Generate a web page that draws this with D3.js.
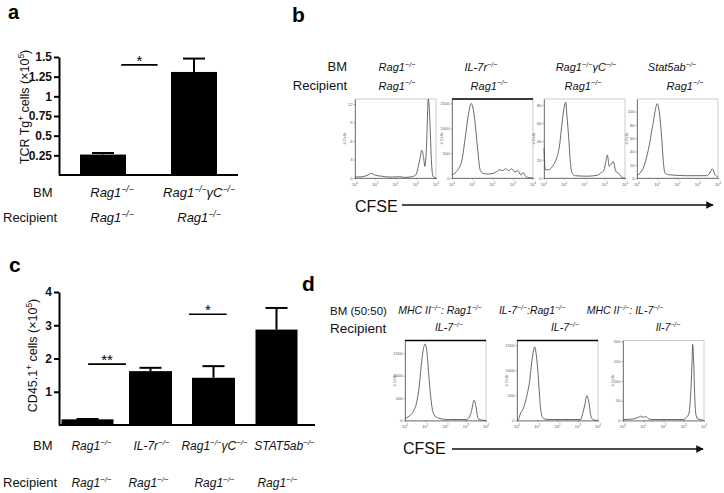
<!DOCTYPE html>
<html>
<head>
<meta charset="utf-8">
<script src="https://cdn.jsdelivr.net/npm/d3@7"></script>
<style>
  body { margin: 0; background: #fff; }
  svg { font-family: "Liberation Sans", Arial, sans-serif; }
</style>
</head>
<body>
<svg id="fig" width="724" height="493"></svg>
<script>
// ---- data ----
// panel a: bar chart
const aCats = ["Rag1^{−/−}", "Rag1^{−/−}γC^{−/−}"];
const aRecip = ["Rag1^{−/−}", "Rag1^{−/−}"];
const aVals = [0.26, 1.31];
const aErr = [0.28, 1.48];
const aTicks = [0.25, 0.5, 0.75, 1, 1.25, 1.5];
const aSig = [{ from: 0.2, to: 0.6, y: 1.4, label: "*" }];

// panel c: bar chart
const cCats = ["Rag1^{−/−}", "IL-7r^{−/−}", "Rag1^{−/−}γC^{−/−}", "STAT5ab^{−/−}"];
const cRecip = ["Rag1^{−/−}", "Rag1^{−/−}", "Rag1^{−/−}", "Rag1^{−/−}"];
const cVals = [0.17, 1.62, 1.42, 2.87];
const cErr = [0.18, 1.72, 1.77, 3.52];
const cTicks = [1, 2, 3, 4];
const cSig = [
  { from: 0.01, to: 0.61, y: 1.83, label: "**" },
  { from: 1.61, to: 2.21, y: 3.33, label: "*" }
];

// panel b: CFSE histograms, points are [log10 CFSE, # cells]
const bCats = ["Rag1^{−/−}", "IL-7r^{−/−}", "Rag1^{−/−}γC^{−/−}", "Stat5ab^{−/−}"];
const bRecip = ["Rag1^{−/−}", "Rag1^{−/−}", "Rag1^{−/−}", "Rag1^{−/−}"];
const bYmax = [12.8, 1590, 86.5, 119];
const bYticks = [[0, 3, 6, 9, 12], [0, 500, 1000, 1500], [0, 20, 40, 60, 80], [0, 20, 40, 60, 80, 100]];
const bHist1 = [[0, 0.15], [0.35, 0.2], [0.65, 0.5], [0.8, 0.75], [1.0, 0.45], [1.3, 0.3], [1.7, 0.15],
  [2.2, 0.2], [2.45, 0.1], [2.8, 0.2], [3.0, 0.5], [3.1, 1.5], [3.2, 3.0], [3.3, 4.5], [3.38, 3.5],
  [3.45, 1.9], [3.53, 5], [3.62, 12.8], [3.7, 9], [3.77, 3], [3.85, 0.3], [4.0, 0]];
const bHist2 = [[0, 60], [0.15, 100], [0.3, 170], [0.5, 380], [0.65, 800], [0.8, 1250], [0.95, 1500],
  [1.1, 1250], [1.25, 650], [1.4, 150], [1.55, 90], [1.8, 80], [2.05, 95], [2.2, 130], [2.35, 165],
  [2.5, 150], [2.65, 185], [2.8, 150], [2.95, 185], [3.1, 120], [3.25, 150], [3.4, 60], [3.5, 110],
  [3.65, 30], [3.8, 5], [4.0, 0]];
const bHist3 = [[0, 33], [0.06, 9], [0.22, 9], [0.47, 14.5], [0.63, 22], [0.77, 36], [0.88, 58],
  [0.97, 74], [1.02, 80], [1.07, 83], [1.13, 69], [1.22, 44], [1.3, 18], [1.38, 5.5], [1.55, 2.5],
  [2.13, 2], [2.63, 3], [2.8, 5.5], [2.97, 9], [3.05, 18], [3.13, 25], [3.22, 13], [3.3, 14.5],
  [3.42, 18], [3.55, 7], [3.67, 5.5], [3.8, 2], [3.88, 0], [4.0, 0]];
const bHist4 = [[0.02, 4], [0.15, 7.5], [0.31, 15], [0.48, 32], [0.64, 55], [0.72, 70], [0.81, 85],
  [0.89, 100], [1.0, 112], [1.1, 100], [1.22, 60], [1.3, 25], [1.38, 7.5], [1.55, 5], [2.45, 3.5],
  [3.44, 3.5], [3.6, 7.5], [3.72, 14], [3.85, 5], [3.94, 2.5], [4.0, 1]];
const bTopBar = [false, true, false, false];

// panel d: CFSE histograms
const dCats = ["MHC II^{−/−}: Rag1^{−/−}", "IL-7^{−/−}:Rag1^{−/−}", "MHC II^{−/−}: IL-7^{−/−}"];
const dRecip = ["IL-7^{−/−}", "IL-7^{−/−}", "Il-7^{−/−}"];
const dYmax = [1785, 1590, 202];
const dYticks = [[0, 500, 1000, 1500], [0, 500, 1000, 1500], [0, 50, 100, 150, 200]];
const dHist1 = [[0, 40], [0.05, 53], [0.25, 113], [0.41, 203], [0.58, 413], [0.71, 788], [0.82, 1310],
  [0.9, 1576], [0.99, 1710], [1.07, 1576], [1.15, 1163], [1.23, 713], [1.32, 338], [1.43, 128],
  [1.65, 53], [2.06, 23], [3.05, 23], [3.18, 75], [3.29, 225], [3.41, 450], [3.51, 300], [3.57, 113],
  [3.65, 23], [4.0, 0]];
const dHist2 = [[0, 10], [0.07, 20], [0.15, 118], [0.32, 250], [0.48, 480], [0.62, 775], [0.73, 1170],
  [0.82, 1400], [0.87, 1465], [0.93, 1367], [1.02, 1038], [1.1, 578], [1.18, 184], [1.28, 53],
  [1.48, 20], [3.15, 20], [3.23, 118], [3.35, 315], [3.45, 493], [3.57, 315], [3.65, 85], [3.78, 13],
  [3.98, 0]];
const dHist3 = [[0.02, 2.5], [0.51, 4], [0.76, 8], [0.87, 11], [1.0, 8], [1.12, 10], [1.25, 5],
  [1.42, 2.5], [2.98, 2.5], [3.14, 8], [3.26, 19], [3.34, 65], [3.41, 148], [3.44, 192], [3.49, 148],
  [3.54, 65], [3.59, 19], [3.67, 5], [3.97, 1]];
const dTopBar = [true, true, false];

const histExp = [0, 1, 2, 3, 4];

// ---- helpers ----
const svg = d3.select("#fig");
const FONT = "'Liberation Sans', Arial, sans-serif";

svg.append("defs").append("marker")
  .attr("id", "arrow").attr("viewBox", "0 0 10 10")
  .attr("refX", 9).attr("refY", 5)
  .attr("markerWidth", 5).attr("markerHeight", 5)
  .attr("orient", "auto")
  .append("path").attr("d", "M0,0L10,5L0,10z").attr("fill", "#111");

// text with ^{...} superscripts
function rich(sel, str, size) {
  const parts = str.split(/(\^\{[^}]*\})/).filter(s => s.length);
  let up = false;
  parts.forEach(p => {
    if (p.startsWith("^{")) {
      sel.append("tspan").attr("dy", up ? 0 : -size * 0.38)
        .attr("font-size", size * 0.66).text(p.slice(2, -1));
      up = true;
    } else {
      const t = sel.append("tspan").text(p);
      if (up) { t.attr("dy", size * 0.38); up = false; }
    }
  });
  return sel;
}

function label(x, y, str, size, opts = {}) {
  const t = svg.append("text")
    .attr("x", x).attr("y", y)
    .attr("font-size", size)
    .attr("text-anchor", opts.anchor || "start")
    .attr("font-style", opts.italic ? "italic" : "normal")
    .attr("font-weight", opts.bold ? "bold" : "normal")
    .attr("fill", "#111");
  if (opts.rotate) t.attr("transform", `rotate(-90,${x},${y})`);
  return rich(t, str, size);
}

function barPanel(cfg) {
  const g = svg.append("g");
  const y = d3.scaleLinear().domain([0, cfg.ymax]).range([cfg.bottom, cfg.top]);
  const x = d3.scaleBand().domain(d3.range(cfg.vals.length))
    .range(cfg.xRange).paddingInner(cfg.padIn).paddingOuter(cfg.padOut);
  const cx = i => x(i) + x.bandwidth() / 2;
  const ix = d3.scaleLinear().domain([0, 1]).range([cx(0), cx(1)]);

  const ya = g.append("g").attr("transform", `translate(${cfg.xRange[0]},0)`)
    .call(d3.axisLeft(y).tickValues(cfg.ticks).tickSize(5).tickSizeOuter(0).tickFormat(d => String(d)));
  ya.select(".domain").attr("stroke-width", 2);
  ya.selectAll(".tick line").attr("stroke-width", 2);
  ya.selectAll(".tick text").attr("font-size", 12).attr("font-weight", "bold")
    .attr("font-family", FONT).attr("fill", "#111").attr("x", -7);

  const xa = g.append("g").attr("transform", `translate(0,${cfg.bottom})`)
    .call(d3.axisBottom(x).tickSize(0).tickSizeOuter(0).tickFormat(""));
  xa.select(".domain").attr("stroke-width", 2).attr("d", `M${cfg.xRange[0]},0H${cfg.xEnd}`);

  g.selectAll("rect.bar").data(cfg.vals).join("rect").attr("class", "bar")
    .attr("x", (d, i) => cx(i) - cfg.widths[i] / 2)
    .attr("width", (d, i) => cfg.widths[i])
    .attr("y", d => y(d)).attr("height", d => y(0) - y(d))
    .attr("fill", "#000");

  const eb = g.selectAll("g.err").data(cfg.err).join("g").attr("class", "err");
  eb.append("line").attr("x1", (d, i) => cx(i)).attr("x2", (d, i) => cx(i))
    .attr("y1", (d, i) => y(cfg.vals[i])).attr("y2", d => y(d))
    .attr("stroke", "#000").attr("stroke-width", 2);
  eb.append("line").attr("x1", (d, i) => cx(i) - cfg.cap / 2).attr("x2", (d, i) => cx(i) + cfg.cap / 2)
    .attr("y1", d => y(d)).attr("y2", d => y(d))
    .attr("stroke", "#000").attr("stroke-width", 2);

  cfg.sig.forEach(s => {
    g.append("line").attr("x1", ix(s.from)).attr("x2", ix(s.to))
      .attr("y1", y(s.y)).attr("y2", y(s.y)).attr("stroke", "#000").attr("stroke-width", 1.6);
    g.append("text").attr("x", (ix(s.from) + ix(s.to)) / 2).attr("y", y(s.y) + 1)
      .attr("text-anchor", "middle").attr("font-size", 15).attr("fill", "#000").text(s.label);
  });

  label(cfg.ylabelX, (cfg.top + cfg.bottom) / 2 + cfg.ylabelDy, cfg.ylabel, 12.5, { rotate: true, anchor: "middle" });

  cfg.cats.forEach((c, i) => label(cx(i) + cfg.catDx[i], cfg.bmY, c, cfg.catSize, { italic: true, anchor: "middle" }));
  cfg.recip.forEach((c, i) => label(cx(i) + cfg.recDx[i], cfg.recY, c, cfg.catSize, { italic: true, anchor: "middle" }));
  label(33, cfg.bmY, "BM", 13);
  label(3, cfg.recY, "Recipient", 13);
}

function hist(left, top, bottom, ymax, yticks, pts, thickTop) {
  const w = 81;
  const g = svg.append("g");
  const x = d3.scaleLinear().domain([0, 4]).range([left, left + w]);
  const y = d3.scaleLinear().domain([0, ymax]).range([bottom, top]);

  g.append("rect").attr("x", left).attr("y", top).attr("width", w).attr("height", bottom - top)
    .attr("fill", "none").attr("stroke", "#aaa").attr("stroke-width", 0.6);
  if (thickTop) {
    g.append("line").attr("x1", left).attr("x2", left + w).attr("y1", top).attr("y2", top)
      .attr("stroke", "#000").attr("stroke-width", 1.6);
  }

  const ya = g.append("g").attr("transform", `translate(${left},0)`)
    .call(d3.axisLeft(y).tickValues(yticks).tickSize(1.5).tickSizeOuter(0).tickFormat(d => String(d)));
  ya.select(".domain").attr("stroke", "#555").attr("stroke-width", 0.7);
  ya.selectAll(".tick line").attr("stroke", "#555").attr("stroke-width", 0.5);
  ya.selectAll(".tick text").attr("font-size", 4).attr("fill", "#555").attr("x", -2.5).attr("font-family", FONT);

  const xa = g.append("g").attr("transform", `translate(0,${bottom})`)
    .call(d3.axisBottom(x).tickValues(histExp).tickSize(1.5).tickSizeOuter(0).tickFormat(""));
  xa.select(".domain").attr("stroke", "#555").attr("stroke-width", 0.7);
  xa.selectAll(".tick line").attr("stroke", "#555").attr("stroke-width", 0.5);
  histExp.forEach(e => {
    const t = g.append("text").attr("x", x(e)).attr("y", bottom + 7.5)
      .attr("text-anchor", "middle").attr("font-size", 4).attr("fill", "#555");
    rich(t, `10^{${e}}`, 4);
  });

  g.append("text").attr("transform", `translate(${left - 9},${(top + bottom) / 2}) rotate(-90)`)
    .attr("text-anchor", "middle").attr("font-size", 4).attr("fill", "#555").text("# Cells");

  g.append("path").datum(pts)
    .attr("d", d3.line().x(d => x(d[0])).y(d => y(d[1])).curve(d3.curveMonotoneX))
    .attr("fill", "none").attr("stroke", "#444").attr("stroke-width", 0.8);
}

// ---- panel letters ----
[["a", 8, 18.5, 20], ["b", 292, 22, 21], ["c", 9, 272, 21], ["d", 302, 291, 21]].forEach(([s, x, y, fs]) =>
  svg.append("text").attr("x", x).attr("y", y).attr("font-size", fs).attr("font-weight", "bold").text(s));

// ---- panel a ----
barPanel({
  vals: aVals, err: aErr, ticks: aTicks, sig: aSig, cats: aCats, recip: aRecip,
  ymax: 1.5, top: 57, bottom: 175, xRange: [59, 238], xEnd: 238,
  padIn: 0.495, padOut: 0.231, widths: [46, 46], cap: 22,
  ylabel: "TCR Tg^{+} cells (×10^{5})", ylabelX: 29, ylabelDy: -9,
  catSize: 13, catDx: [9, 5], recDx: [9, 5], bmY: 196.5, recY: 221.5
});

// ---- panel c ----
barPanel({
  vals: cVals, err: cErr, ticks: cTicks, sig: cSig, cats: cCats, recip: cRecip,
  ymax: 4, top: 292, bottom: 425, xRange: [59, 305], xEnd: 315,
  padIn: 0.317, padOut: 0.111, widths: [52, 43, 43, 42], cap: 22,
  ylabel: "CD45.1^{+} cells (×10^{5})", ylabelX: 37, ylabelDy: -3,
  catSize: 12, catDx: [4, 1, 1, 8], recDx: [4, -2, 1, 1], bmY: 449.5, recY: 486.5
});

// ---- panel b ----
const bLefts = [355, 452, 544, 637];
const bBmX = [397, 481, 586, 672];
const bRecX = [397, 489, 583, 685];
label(347, 71, "BM", 13, { anchor: "end" });
label(347, 89.5, "Recipient", 13, { anchor: "end" });
bCats.forEach((c, i) => label(bBmX[i], 71, c, 11, { italic: true, anchor: "middle" }));
bRecip.forEach((c, i) => label(bRecX[i], 89.5, c, 11, { italic: true, anchor: "middle" }));
[bHist1, bHist2, bHist3, bHist4].forEach((h, i) =>
  hist(bLefts[i], 99, 178, bYmax[i], bYticks[i], h, bTopBar[i]));
label(355, 212, "CFSE", 16);
svg.append("line").attr("x1", 402).attr("x2", 713).attr("y1", 205).attr("y2", 205)
  .attr("stroke", "#111").attr("stroke-width", 1.5).attr("marker-end", "url(#arrow)");

// ---- panel d ----
const dLefts = [405, 517, 623];
const dBmX = [440, 532, 625];
const dRecX = [449, 565, 668];
label(330, 315, "BM (50:50)", 11.5);
label(330, 333, "Recipient", 13.5);
dCats.forEach((c, i) => label(dBmX[i], 313.5, c, 10.5, { italic: true, anchor: "middle" }));
dRecip.forEach((c, i) => label(dRecX[i], 331, c, 10.5, { italic: true, anchor: "middle" }));
[dHist1, dHist2, dHist3].forEach((h, i) =>
  hist(dLefts[i], 340.5, 420.5, dYmax[i], dYticks[i], h, dTopBar[i]));
label(403, 454, "CFSE", 16);
svg.append("line").attr("x1", 452).attr("x2", 703).attr("y1", 449).attr("y2", 449)
  .attr("stroke", "#111").attr("stroke-width", 1.5).attr("marker-end", "url(#arrow)");
</script>
</body>
</html>
